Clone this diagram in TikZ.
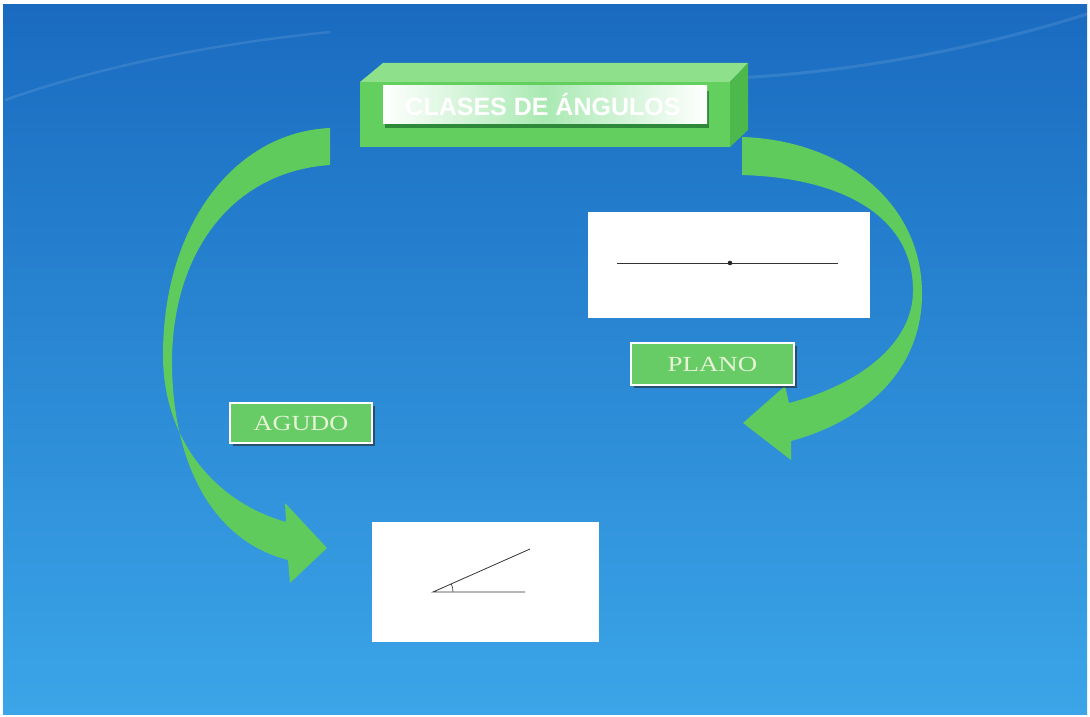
\documentclass[tikz,border=0pt]{standalone}
\usepackage{fontspec}
\setmainfont{Liberation Serif}
\newfontfamily\titlefont{Liberation Sans}
\usetikzlibrary{shadows,calc}
\definecolor{bgtop}{HTML}{1A6BC0}
\definecolor{bgbot}{HTML}{3BA5E8}
\definecolor{arrowgreen}{HTML}{5FCB5C}
\definecolor{frontgreen}{HTML}{62CF5E}
\definecolor{topgreen}{HTML}{8EE08A}
\definecolor{sidegreen}{HTML}{4DB84C}
\definecolor{darkgreen}{HTML}{2E8A3A}
\definecolor{innergreen}{HTML}{A9E9B2}
\definecolor{lblgreen}{HTML}{68CC66}
\definecolor{lbltext}{HTML}{E6F4D6}
\tikzset{
  blockarrow/.style={fill=arrowgreen, draw=none},
  whitebox/.style={fill=white, draw=none, inner sep=0pt},
  lbl/.style={fill=lblgreen, draw=white, line width=2pt, inner sep=0pt,
    text=lbltext, font=\fontsize{21.5}{22}\selectfont,
    drop shadow={shadow xshift=3pt, shadow yshift=-3pt, opacity=0.6, fill=black!85}},
  figline/.style={draw=black!80, line width=0.8pt},
}
\begin{document}
\begin{tikzpicture}[x=1pt,y=-1pt]
\useasboundingbox (0,0) rectangle (1090,717);
\fill[white] (0,0) rectangle (1090,717);
\shade[top color=bgtop, bottom color=bgbot] (3,5) rectangle (1087,714);
% faint swooshes
\draw[white, opacity=0.1, line width=2.5pt] (5,100) .. controls (90,70) and (200,45) .. (330,32);
\draw[white, opacity=0.1, line width=3pt] (735,78) .. controls (860,72) and (990,45) .. (1087,14);

% block arrows
\fill[blockarrow] (330,128) .. controls (235,132) and (163,225) .. (163,355)
  .. controls (163,440) and (215,502) .. (286,522) -- (285,503) -- (327,548) -- (290,583) -- (288,560)
  .. controls (210,540) and (173,460) .. (172,365)
  .. controls (171,258) and (228,172) .. (330,165) -- cycle;
\fill[blockarrow] (742,137) .. controls (840,140) and (921,200) .. (922,292)
  .. controls (923,372) and (862,422) .. (791,441) -- (791,460) -- (743,423) -- (785,386) -- (789,403)
  .. controls (858,385) and (912,345) .. (913,292)
  .. controls (914,218) and (845,178) .. (742,175) -- cycle;

% title 3D box
\fill[topgreen] (360,82) -- (383,63) -- (748,63) -- (730,82) -- cycle;
\fill[sidegreen] (730,82) -- (748,63) -- (748,130) -- (730,147) -- cycle;
\fill[frontgreen] (360,82) rectangle (730,147);
\fill[darkgreen] (385,91) rectangle (709,128);
\shade[left color=white, right color=white, middle color=innergreen] (383,86) rectangle (707,123);
\node[text=white, font=\titlefont\bfseries\fontsize{25}{25}\selectfont, inner sep=0pt] (title) at (543,105) {CLASES DE ÁNGULOS};

% white boxes
\node[whitebox, minimum width=282pt, minimum height=106pt] (pbox) at (728.5,264.5) {};
\node[whitebox, minimum width=227pt, minimum height=120pt] (abox) at (485.5,582) {};

% plano figure
\coordinate (p1) at (617,263);
\coordinate (p2) at (838,263);
\coordinate (pv) at (730,263);
\draw[figline] (p1) -- (p2);
\fill[black!85] (pv) circle (2.3pt);

% agudo figure
\coordinate (av) at (433,592);
\coordinate (ah) at (525,592);
\coordinate (au) at (530,549);
\draw[figline] (ah) -- (av) -- (au);
\draw[figline, line width=0.6pt] ($(av)+(20,0)$) arc[start angle=0, end angle=-24, radius=20];

% labels
\node[lbl, minimum width=163pt, minimum height=42pt] (plano) at (712.5,364) {\scalebox{1.25}[1]{PLANO}};
\node[lbl, minimum width=142pt, minimum height=40pt] (agudo) at (301,423) {\scalebox{1.22}[1]{AGUDO}};
\end{tikzpicture}
\end{document}
